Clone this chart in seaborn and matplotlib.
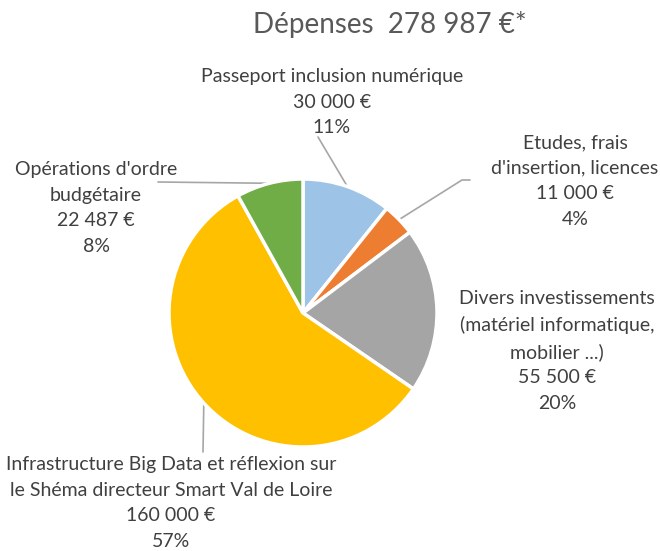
import numpy as np
import matplotlib.pyplot as plt
import seaborn as sns

# budget data
categories = ["Passeport inclusion numérique",
              "Etudes, frais\nd'insertion, licences",
              "Divers investissements\n(matériel informatique,\nmobilier ...)",
              "Infrastructure Big Data et réflexion sur\nle Shéma directeur Smart Val de Loire",
              "Opérations d'ordre\nbudgétaire"]
amounts = [30000, 11000, 55500, 160000, 22487]
amount_labels = ["30 000 €", "11 000 €", "55 500 €", "160 000 €", "22 487 €"]
pct_labels = ["11%", "4%", "20%", "57%", "8%"]
title = "Dépenses  278 987 €*"

colors = ["#9dc3e6", "#ed7d31", "#a5a5a5", "#ffc000", "#70ad47"]

sns.set_theme(style="white")
plt.rcParams['font.family'] = ['Lato', 'DejaVu Sans']

W, H = 660, 551
fig = plt.figure(figsize=(W / 100, H / 100), dpi=100)
ax = fig.add_axes([169 / W, 104 / H, 268 / W, 268 / H])
wedges, _ = ax.pie(amounts, colors=colors, startangle=90, counterclock=False,
                   wedgeprops=dict(edgecolor="white", linewidth=2.5))
ax.set_xlim(-1, 1)
ax.set_ylim(-1, 1)
ax.set_aspect("equal")
ax.axis("off")

fig.text(390 / W, 1 - 25 / H, title, ha="center", va="center",
         fontsize=20, color="#595959")

# label centres (pixels from top-left) and leader line start points
label_pos = [(332, 102), (575, 181), (557, 351), (171, 503), (96, 208)]
leader_start = [[(318, 137)], [(470, 180), (462, 180)], None,
                [(203, 452)], [(158, 182)]]

def px_to_data(x, y):
    return ax.transData.inverted().transform((x, H - y))

for i, w in enumerate(wedges):
    txt = categories[i] + "\n" + amount_labels[i] + "\n" + pct_labels[i]
    lx, ly = label_pos[i]
    fig.text(lx / W, 1 - ly / H, txt, ha="center", va="center",
             multialignment="center", fontsize=14, color="#404040",
             linespacing=1.6)
    if leader_start[i] is None:
        continue
    mid = np.deg2rad((w.theta1 + w.theta2) / 2)
    end = (np.cos(mid) * w.r, np.sin(mid) * w.r)
    pts = [px_to_data(x, y) for x, y in leader_start[i]] + [end]
    xs = [p[0] for p in pts]
    ys = [p[1] for p in pts]
    ax.plot(xs, ys, color="#a6a6a6", lw=1.2, clip_on=False, zorder=0)

fig.savefig("out.png", dpi=100)
